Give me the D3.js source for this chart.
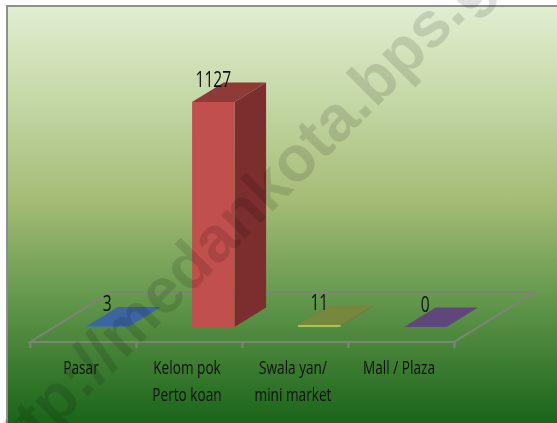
<!DOCTYPE html>
<html>
<head>
    <meta charset="utf-8">
    <title>Pasar</title>
    <script src="https://d3js.org/d3.v7.min.js"></script>
    <style>
        body { margin: 0; padding: 0; background-color: #fff; overflow: hidden; }
        text { font-family: "Open Sans", sans-serif; fill: #111; }
    </style>
</head>
<body>
    <div id="chart"></div>
    <script>
        var categories = ["Pasar", "Kelompok", "Swalayan", "Mall"];
        var values = [3, 1127, 11, 0];
        var labelLines = [["Pasar"], ["Kelom pok", "Perto koan"], ["Swala yan/", "mini market"], ["Mall / Plaza"]];
        var fronts = ["#4f81bd", "#c0504d", "#a9c45a", "#8064a2"];
        var sides = ["#37608f", "#7b2f2e", "#6f8038", "#5a4378"];
        var tops = ["#3e66a0", "#8e3a38", "#76883e", "#5f477c"];
        var watermark = "http://medankota.bps.go.id";

        var width = 557, height = 423;
        var svg = d3.select("#chart").append("svg")
            .attr("width", width)
            .attr("height", height);

        var defs = svg.append("defs");
        var grad = defs.append("linearGradient")
            .attr("id", "bg").attr("x1", 0).attr("y1", 0).attr("x2", 0).attr("y2", 1);
        grad.append("stop").attr("offset", "0%").attr("stop-color", "#e1eed1");
        grad.append("stop").attr("offset", "22%").attr("stop-color", "#c4d8a6");
        grad.append("stop").attr("offset", "45%").attr("stop-color", "#a5bc76");
        grad.append("stop").attr("offset", "66%").attr("stop-color", "#699b50");
        grad.append("stop").attr("offset", "100%").attr("stop-color", "#125f14");
        defs.append("filter").attr("id", "soft")
            .append("feGaussianBlur").attr("stdDeviation", 0.5);
        defs.append("filter").attr("id", "softText")
            .append("feGaussianBlur").attr("stdDeviation", 0.3);

        // background panel with grey frame on top and left
        svg.append("rect").attr("x", 7).attr("y", 6).attr("width", 560).attr("height", 430)
            .attr("fill", "url(#bg)").attr("stroke", "#8f8f8f").attr("stroke-width", 2);

        // scales: categories along the front edge, depth runs back along the floor
        var x = d3.scaleBand().domain(categories).range([30, 454]).paddingInner(0.6).paddingOuter(0.3);
        var y = d3.scaleLinear().domain([0, 1127]).range([327, 102]);
        var depthX = d3.scaleLinear().domain([0, 1]).range([0, 81]);
        var depthY = d3.scaleLinear().domain([0, 1]).range([342, 292]);
        var tickPos = d3.scaleLinear().domain([0, 4]).range([30, 454]);
        var barFront = 0.3, barBack = 0.69;
        var dx = depthX(barBack) - depthX(barFront);
        var dy = depthY(barBack) - depthY(barFront);

        var g = svg.append("g").attr("filter", "url(#soft)");

        // floor
        var floor = [
            [tickPos(0), depthY(0)], [tickPos(0) + depthX(1), depthY(1)],
            [tickPos(4) + depthX(1), depthY(1)], [tickPos(4), depthY(0)]
        ];
        g.append("path")
            .attr("d", d3.line()(floor) + "Z")
            .attr("fill", "none").attr("stroke", "#7f8478").attr("stroke-width", 2);

        var axis = d3.axisBottom(tickPos).ticks(4).tickSize(6).tickFormat("");
        var axisG = g.append("g").attr("transform", "translate(0," + depthY(0) + ")").call(axis);
        axisG.select(".domain").remove();
        axisG.selectAll("line").attr("stroke", "#7f8478").attr("stroke-width", 2);

        // bars: side, front, top
        var bars = g.selectAll(".bar").data(categories).enter().append("g").attr("class", "bar");
        bars.append("path")
            .attr("fill", function(d, i) { return sides[i]; })
            .attr("d", function(d, i) {
                var r = x(d) + x.bandwidth() + depthX(barFront);
                return d3.line()([[r, y(0)], [r + dx, y(0) + dy], [r + dx, y(values[i]) + dy], [r, y(values[i])]]) + "Z";
            });
        bars.append("rect")
            .attr("fill", function(d, i) { return fronts[i]; })
            .attr("x", function(d) { return x(d) + depthX(barFront); })
            .attr("y", function(d, i) { return y(values[i]); })
            .attr("width", x.bandwidth())
            .attr("height", function(d, i) { return y(0) - y(values[i]); });
        bars.append("path")
            .attr("fill", function(d, i) { return tops[i]; })
            .attr("d", function(d, i) {
                var l = x(d) + depthX(barFront), r = l + x.bandwidth(), t = y(values[i]);
                return d3.line()([[l, t], [r, t], [r + dx, t + dy], [l + dx, t + dy]]) + "Z";
            });

        // value labels, squeezed sideways since no narrow font is installed
        svg.selectAll(".value").data(categories).enter().append("text")
            .attr("class", "value")
            .attr("filter", "url(#softText)")
            .attr("transform", function(d, i) {
                return "translate(" + (x(d) + depthX(barFront) + x.bandwidth() / 2) + "," + (y(values[i]) - 15) + ") scale(0.74,1)";
            })
            .attr("text-anchor", "middle")
            .style("font-size", "21px")
            .text(function(d, i) { return values[i]; });

        // category labels
        var cat = svg.selectAll(".cat").data(categories).enter().append("text")
            .attr("class", "cat")
            .attr("filter", "url(#softText)")
            .attr("transform", function(d) {
                return "translate(" + (x(d) + x.bandwidth() / 2 - 2) + ",0) scale(0.78,1)";
            })
            .attr("text-anchor", "middle")
            .style("font-size", "17.5px");
        cat.selectAll("tspan").data(function(d, i) { return labelLines[i]; }).enter().append("tspan")
            .attr("x", 0)
            .attr("y", function(d, i) { return 374 + i * 27; })
            .text(function(d) { return d; });

        // watermark across everything
        svg.append("text")
            .attr("transform", "translate(-2,486) rotate(-45)")
            .style("font-family", "'Liberation Sans', sans-serif")
            .style("font-weight", "bold")
            .style("font-size", "64px")
            .style("fill", "#000")
            .style("fill-opacity", 0.12)
            .text(watermark);
    </script>
</body>
</html>
